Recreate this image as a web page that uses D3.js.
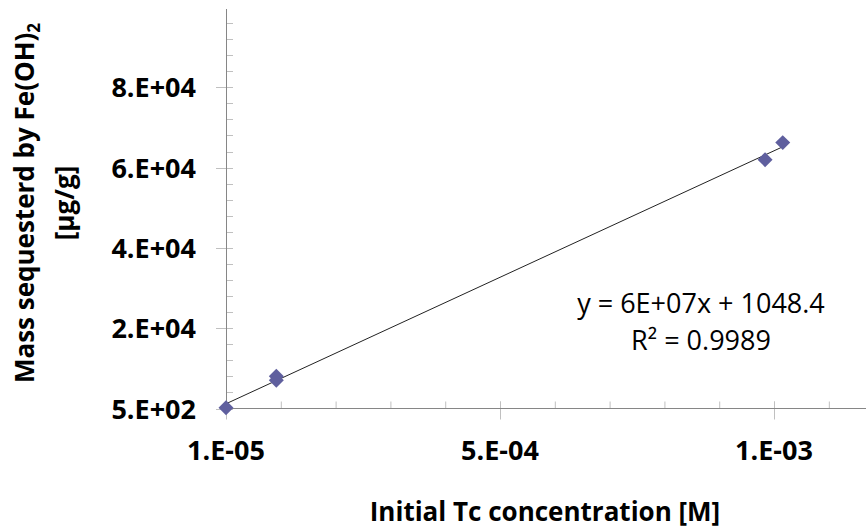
<!DOCTYPE html>
<html>
<head>
<meta charset="utf-8">
<script src="https://cdnjs.cloudflare.com/ajax/libs/d3/7.8.5/d3.min.js"></script>
<style>
  body { margin: 0; background: #fff; }
  text { font-family: "Open Sans", Lato, sans-serif; fill: #000; }
</style>
</head>
<body>
<div id="chart"></div>
<script>
// chart data
var concentration = [1e-5, 1e-4, 1e-4, 9.74e-4, 1.0056e-3];   // Initial Tc [M]
var massSequestered = [675, 8525, 7530, 62480, 66720];       // µg/g

var xTickValues = [1e-5, 5e-4, 9.9e-4];
var xTickLabels = ["1.E-05", "5.E-04", "1.E-03"];
var yTickValues = [500, 20500, 40500, 60500, 80500];
var yTickLabels = ["5.E+02", "2.E+04", "4.E+04", "6.E+04", "8.E+04"];
var equationLines = ["y = 6E+07x + 1048.4", "R² = 0.9989"];

var svgWidth = 866;
var svgHeight = 531;

var svg = d3.select("#chart")
  .append("svg")
  .attr("width", svgWidth)
  .attr("height", svgHeight);

// scales (axis min/max as in the original Excel chart)
var xScale = d3.scaleLinear()
  .domain([1e-5, 1.1545e-3])
  .range([226, 866]);

var yScale = d3.scaleLinear()
  .domain([500, 100000])
  .range([408.5, 9]);

var axisColor = "#868686";
var tickColor = "#c0c0c0";

// minor ticks (inside only)
var xMinor = d3.range(1e-5, 1.1545e-3, 0.98e-4);
var yMinor = d3.range(500, 100000, 4000);

svg.append("g").selectAll("line")
  .data(xMinor)
  .enter()
  .append("line")
  .attr("x1", d => xScale(d) + 0.5)
  .attr("x2", d => xScale(d) + 0.5)
  .attr("y1", yScale(500) - 7)
  .attr("y2", yScale(500))
  .attr("stroke", tickColor);

svg.append("g").selectAll("line")
  .data(yMinor)
  .enter()
  .append("line")
  .attr("y1", d => Math.round(yScale(d)) + 0.5)
  .attr("y2", d => Math.round(yScale(d)) + 0.5)
  .attr("x1", xScale(1e-5))
  .attr("x2", xScale(1e-5) + 7)
  .attr("stroke", tickColor);

// major ticks (cross)
svg.append("g").selectAll("line")
  .data(xTickValues)
  .enter()
  .append("line")
  .attr("x1", d => Math.round(xScale(d)) + 0.5)
  .attr("x2", d => Math.round(xScale(d)) + 0.5)
  .attr("y1", yScale(500) - 7)
  .attr("y2", yScale(500) + 11)
  .attr("stroke", tickColor);

svg.append("g").selectAll("line")
  .data(yTickValues)
  .enter()
  .append("line")
  .attr("y1", d => Math.round(yScale(d)) + 0.5)
  .attr("y2", d => Math.round(yScale(d)) + 0.5)
  .attr("x1", xScale(1e-5) - 10)
  .attr("x2", xScale(1e-5) + 7)
  .attr("stroke", tickColor);

// axis lines
svg.append("line")
  .attr("x1", xScale(1e-5)).attr("x2", svgWidth)
  .attr("y1", 408.5).attr("y2", 408.5)
  .attr("stroke", axisColor);

svg.append("line")
  .attr("x1", 226.5).attr("x2", 226.5)
  .attr("y1", yScale(100000)).attr("y2", 409)
  .attr("stroke", axisColor);

// tick labels
svg.append("g").selectAll("text")
  .data(xTickValues)
  .enter()
  .append("text")
  .attr("x", d => xScale(d))
  .attr("y", 460)
  .attr("text-anchor", "middle")
  .style("font-size", "27px")
  .style("font-weight", "bold")
  .text((d, i) => xTickLabels[i]);

svg.append("g").selectAll("text")
  .data(yTickValues)
  .enter()
  .append("text")
  .attr("x", 196)
  .attr("y", d => yScale(d) + 10)
  .attr("text-anchor", "end")
  .style("font-size", "27px")
  .style("font-weight", "bold")
  .text((d, i) => yTickLabels[i]);

// linear trendline, least squares on the points
var mx = d3.mean(concentration), my = d3.mean(massSequestered);
var sxy = 0, sxx = 0;
concentration.forEach(function(x, i) {
  sxy += (x - mx) * (massSequestered[i] - my);
  sxx += (x - mx) * (x - mx);
});
var slope = sxy / sxx;
var intercept = my - slope * mx;
var xLo = d3.min(concentration), xHi = d3.max(concentration);

svg.append("line")
  .attr("x1", xScale(xLo)).attr("y1", yScale(slope * xLo + intercept))
  .attr("x2", xScale(xHi)).attr("y2", yScale(slope * xHi + intercept))
  .attr("stroke", "#222")
  .attr("stroke-width", 1);

// diamond markers
var diamond = d3.symbol().type(d3.symbolSquare).size(112);
svg.append("g").selectAll("path")
  .data(concentration)
  .enter()
  .append("path")
  .attr("d", diamond)
  .attr("transform", (d, i) => `translate(${xScale(d)}, ${yScale(massSequestered[i])}) rotate(45)`)
  .attr("fill", "#5f5f9e");

// trendline label
svg.append("g").selectAll("text")
  .data(equationLines)
  .enter()
  .append("text")
  .attr("x", 701)
  .attr("y", (d, i) => 313 + i * 37)
  .attr("text-anchor", "middle")
  .style("font-size", "27px")
  .text(d => d);

// axis titles
svg.append("text")
  .attr("x", 545)
  .attr("y", 521)
  .attr("text-anchor", "middle")
  .style("font-size", "26px")
  .style("font-weight", "bold")
  .text("Initial Tc concentration [M]");

var yTitle = svg.append("text")
  .attr("transform", "translate(34, 203) rotate(-90)")
  .attr("text-anchor", "middle")
  .style("font-size", "26px")
  .style("font-weight", "bold");
yTitle.append("tspan").text("Mass sequesterd by Fe(OH)");
yTitle.append("tspan").attr("dy", 6).style("font-size", "17px").text("2");

svg.append("text")
  .attr("transform", "translate(74, 203) rotate(-90)")
  .attr("text-anchor", "middle")
  .style("font-size", "26px")
  .style("font-weight", "bold")
  .text("[µg/g]");
</script>
</body>
</html>
